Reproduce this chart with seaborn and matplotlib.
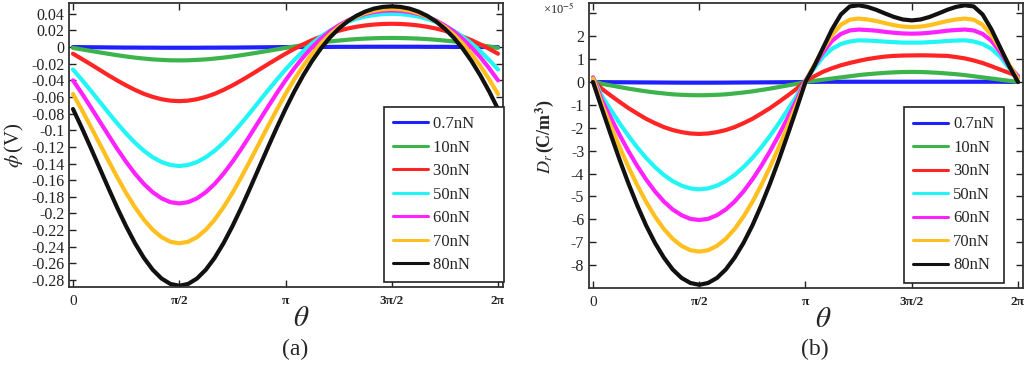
import numpy as np
import pandas as pd
import matplotlib
matplotlib.use('Agg')
import matplotlib.pyplot as plt
import seaborn as sns

# Force labels, colours and the angle grid (degrees, every 7.5 deg)
forces = ['0.7nN', '10nN', '30nN', '50nN', '60nN', '70nN', '80nN']
colors = ['#2020ff', '#3cb44b', '#ff2525', '#22f5f5', '#ff22ff', '#ffbf1f', '#111111']
theta_deg = np.linspace(0, 360, 49)

# (a) potential phi (V)
phi_07 = [0, -0.0001, -0.0002, -0.0003, -0.0004, -0.0005, -0.0006, -0.0006, -0.0007, -0.0007, -0.0008, -0.0008,
          -0.0008, -0.0008, -0.0008, -0.0007, -0.0007, -0.0006, -0.0006, -0.0005, -0.0004, -0.0003, -0.0002, -0.0001,
          0, 0.0001, 0.0001, 0.0002, 0.0002, 0.0002, 0.0003, 0.0003, 0.0003, 0.0004, 0.0004, 0.0004,
          0.0004, 0.0004, 0.0004, 0.0004, 0.0003, 0.0003, 0.0003, 0.0002, 0.0002, 0.0002, 0.0001, 0.0001, 0]
phi_10 = [-0.0010, -0.0028, -0.0046, -0.0064, -0.0081, -0.0098, -0.0113, -0.0127, -0.0138, -0.0148, -0.0154, -0.0159,
          -0.0160, -0.0159, -0.0154, -0.0148, -0.0138, -0.0127, -0.0113, -0.0098, -0.0081, -0.0064, -0.0046, -0.0028,
          -0.0010, 0.0007, 0.0024, 0.0040, 0.0054, 0.0067, 0.0078, 0.0088, 0.0096, 0.0102, 0.0106, 0.0109,
          0.0110, 0.0109, 0.0106, 0.0102, 0.0096, 0.0088, 0.0078, 0.0067, 0.0054, 0.0040, 0.0024, 0.0007, -0.0010]
phi_30 = [-0.0080, -0.0143, -0.0207, -0.0273, -0.0339, -0.0402, -0.0461, -0.0515, -0.0562, -0.0599, -0.0627, -0.0644,
          -0.0650, -0.0644, -0.0627, -0.0599, -0.0562, -0.0515, -0.0461, -0.0402, -0.0339, -0.0273, -0.0207, -0.0143,
          -0.0080, -0.0021, 0.0033, 0.0083, 0.0126, 0.0164, 0.0196, 0.0223, 0.0244, 0.0260, 0.0271, 0.0278,
          0.0280, 0.0278, 0.0271, 0.0260, 0.0244, 0.0223, 0.0196, 0.0164, 0.0126, 0.0083, 0.0033, -0.0021, -0.0080]
phi_50 = [-0.0270, -0.0394, -0.0523, -0.0656, -0.0789, -0.0918, -0.1040, -0.1150, -0.1246, -0.1325, -0.1382, -0.1418,
          -0.1430, -0.1418, -0.1382, -0.1325, -0.1246, -0.1150, -0.1040, -0.0918, -0.0789, -0.0656, -0.0523, -0.0394,
          -0.0270, -0.0155, -0.0050, 0.0044, 0.0126, 0.0196, 0.0255, 0.0302, 0.0339, 0.0366, 0.0385, 0.0396,
          0.0400, 0.0396, 0.0385, 0.0366, 0.0339, 0.0302, 0.0255, 0.0196, 0.0126, 0.0044, -0.0050, -0.0155, -0.0270]
phi_60 = [-0.0400, -0.0557, -0.0722, -0.0891, -0.1060, -0.1225, -0.1380, -0.1522, -0.1645, -0.1745, -0.1819, -0.1865,
          -0.1880, -0.1865, -0.1819, -0.1745, -0.1645, -0.1522, -0.1380, -0.1225, -0.1060, -0.0891, -0.0722, -0.0557,
          -0.0400, -0.0254, -0.0121, -0.0003, 0.0100, 0.0188, 0.0260, 0.0319, 0.0365, 0.0399, 0.0422, 0.0436,
          0.0440, 0.0436, 0.0422, 0.0399, 0.0365, 0.0319, 0.0260, 0.0188, 0.0100, -0.0003, -0.0121, -0.0254, -0.0400]
phi_70 = [-0.0565, -0.0756, -0.0956, -0.1161, -0.1366, -0.1566, -0.1755, -0.1926, -0.2075, -0.2196, -0.2286, -0.2341,
          -0.2360, -0.2341, -0.2286, -0.2196, -0.2075, -0.1926, -0.1755, -0.1566, -0.1366, -0.1161, -0.0956, -0.0756,
          -0.0565, -0.0388, -0.0226, -0.0082, 0.0044, 0.0151, 0.0240, 0.0311, 0.0367, 0.0409, 0.0438, 0.0455,
          0.0460, 0.0455, 0.0438, 0.0409, 0.0367, 0.0311, 0.0240, 0.0151, 0.0044, -0.0082, -0.0226, -0.0388, -0.0565]
phi_80 = [-0.0745, -0.0972, -0.1210, -0.1453, -0.1696, -0.1933, -0.2155, -0.2358, -0.2534, -0.2677, -0.2783, -0.2848,
          -0.2870, -0.2848, -0.2783, -0.2677, -0.2534, -0.2358, -0.2155, -0.1933, -0.1696, -0.1453, -0.1210, -0.0972,
          -0.0745, -0.0533, -0.0340, -0.0167, -0.0016, 0.0113, 0.0220, 0.0308, 0.0376, 0.0427, 0.0463, 0.0483,
          0.0490, 0.0483, 0.0463, 0.0427, 0.0376, 0.0308, 0.0220, 0.0113, -0.0016, -0.0167, -0.0340, -0.0533, -0.0745]

# (b) D_r in units of 1e-5 C/m^3
dr_07 = [0, -0.005, -0.01, -0.013, -0.015, -0.018, -0.02, -0.022, -0.025, -0.028, -0.03, -0.03,
         -0.03, -0.03, -0.03, -0.028, -0.025, -0.022, -0.02, -0.018, -0.015, -0.013, -0.01, -0.005,
         0, 0.005, 0.01, 0.01, 0.01, 0.01, 0.01, 0.01, 0.01, 0.01, 0.01, 0.01,
         0.01, 0.01, 0.01, 0.01, 0.01, 0.01, 0.01, 0.01, 0.01, 0.01, 0.01, 0.005, 0]
dr_10 = [0.05, -0.08, -0.15, -0.22, -0.29, -0.35, -0.41, -0.46, -0.50, -0.54, -0.56, -0.575,
         -0.58, -0.575, -0.56, -0.54, -0.50, -0.46, -0.41, -0.35, -0.29, -0.22, -0.15, -0.08,
         0.0, 0.05, 0.1, 0.15, 0.2, 0.25, 0.3, 0.34, 0.37, 0.4, 0.42, 0.435,
         0.44, 0.435, 0.42, 0.4, 0.37, 0.34, 0.3, 0.25, 0.2, 0.15, 0.1, 0.05, 0.0]
dr_30 = [0.1, -0.30, -0.59, -0.87, -1.14, -1.38, -1.61, -1.80, -1.97, -2.10, -2.19, -2.25,
         -2.27, -2.25, -2.19, -2.10, -1.97, -1.80, -1.61, -1.38, -1.14, -0.87, -0.59, -0.30,
         0.05, 0.25, 0.45, 0.6, 0.73, 0.83, 0.92, 1.0, 1.06, 1.11, 1.14, 1.155,
         1.16, 1.165, 1.16, 1.15, 1.14, 1.09, 1.03, 0.94, 0.83, 0.69, 0.54, 0.4, 0.25]
dr_50 = [0.2, -0.61, -1.21, -1.80, -2.35, -2.86, -3.32, -3.72, -4.06, -4.33, -4.53, -4.65,
         -4.69, -4.65, -4.53, -4.33, -4.06, -3.72, -3.32, -2.86, -2.35, -1.80, -1.21, -0.61,
         0.05, 0.6, 1.1, 1.45, 1.66, 1.77, 1.82, 1.81, 1.79, 1.76, 1.74, 1.72,
         1.72, 1.72, 1.74, 1.76, 1.79, 1.81, 1.82, 1.77, 1.66, 1.45, 1.1, 0.6, 0.25]
dr_60 = [0.2, -0.79, -1.56, -2.31, -3.02, -3.67, -4.26, -4.78, -5.22, -5.57, -5.82, -5.98,
         -6.03, -5.98, -5.82, -5.57, -5.22, -4.78, -4.26, -3.67, -3.02, -2.31, -1.56, -0.79,
         0.05, 0.7, 1.3, 1.8, 2.1, 2.25, 2.29, 2.27, 2.24, 2.19, 2.15, 2.12,
         2.11, 2.12, 2.15, 2.19, 2.24, 2.27, 2.29, 2.25, 2.1, 1.8, 1.3, 0.7, 0.25]
dr_70 = [0.15, -0.97, -1.92, -2.84, -3.71, -4.51, -5.24, -5.88, -6.42, -6.85, -7.16, -7.35,
         -7.41, -7.35, -7.16, -6.85, -6.42, -5.88, -5.24, -4.51, -3.71, -2.84, -1.92, -0.97,
         0.0, 0.75, 1.45, 2.05, 2.5, 2.72, 2.77, 2.73, 2.66, 2.57, 2.48, 2.42,
         2.40, 2.42, 2.48, 2.57, 2.66, 2.73, 2.77, 2.72, 2.5, 2.05, 1.45, 0.75, 0.15]
dr_80 = [0.0, -1.16, -2.29, -3.39, -4.43, -5.39, -6.27, -7.03, -7.67, -8.19, -8.56, -8.78,
         -8.86, -8.78, -8.56, -8.19, -7.67, -7.03, -6.27, -5.39, -4.43, -3.39, -2.29, -1.16,
         0.0, 0.7, 1.5, 2.3, 2.95, 3.3, 3.35, 3.28, 3.15, 2.99, 2.84, 2.73,
         2.69, 2.73, 2.84, 2.99, 3.15, 3.28, 3.35, 3.3, 2.95, 2.3, 1.5, 0.7, 0.0]

xtick_labels = ['0', 'π/2', 'π', '3π/2', '2π']
phi_ticks = [0.04, 0.02, 0, -0.02, -0.04, -0.06, -0.08, -0.1, -0.12, -0.14,
             -0.16, -0.18, -0.2, -0.22, -0.24, -0.26, -0.28]
dr_ticks = [-8, -7, -6, -5, -4, -3, -2, -1, 0, 1, 2, 3]

sns.set_style('ticks')
plt.rcParams['font.family'] = ['Liberation Serif', 'DejaVu Serif']
plt.rcParams['mathtext.fontset'] = 'stix'
plt.rcParams['axes.unicode_minus'] = False

theta = np.deg2rad(theta_deg)


def make_frame(series):
    return pd.DataFrame({
        'theta': np.tile(theta, len(series)),
        'value': np.concatenate(series),
        'force': np.repeat(forces, len(theta)),
    })


def style_axis(ax, labels_pad=''):
    ax.set_xlim(-0.059, 6.357)
    ax.set_xticks([0, np.pi / 2, np.pi, 3 * np.pi / 2, 2 * np.pi])
    ax.set_xticklabels(xtick_labels)
    ax.tick_params(direction='in', length=5, width=1, top=True, right=True,
                   labelsize=11.5, colors='#222222')
    ax.tick_params(axis='x', pad=6, labelsize=9.5)
    for i, lab in enumerate(ax.get_xticklabels()):
        if i == 0:
            lab.set_fontsize(11)
        else:
            lab.set_fontweight('bold')
    for s in ax.spines.values():
        s.set_linewidth(1.3)
        s.set_color('#333333')
    ax.set_xlabel('')
    handles, labels = ax.get_legend_handles_labels()
    labels = [lab + labels_pad for lab in labels]
    leg = ax.legend(handles, labels, loc='upper left', bbox_to_anchor=(0.726, 0.634),
                    frameon=True, fancybox=False, edgecolor='#222222', framealpha=1,
                    fontsize=12, handlelength=2.1, handletextpad=0.3,
                    labelspacing=0.45, borderpad=0.55, borderaxespad=0)
    leg.get_frame().set_linewidth(1.2)
    for line in leg.get_lines():
        line.set_linewidth(2.2)


fig = plt.figure(figsize=(10.24, 3.66), dpi=100)
ax_a = fig.add_axes([0.0674, 0.2158, 0.4238, 0.776])
ax_b = fig.add_axes([0.5752, 0.2131, 0.4238, 0.7787])

# Panel (a)
df_a = make_frame([phi_07, phi_10, phi_30, phi_50, phi_60, phi_70, phi_80])
sns.lineplot(data=df_a, x='theta', y='value', hue='force', hue_order=forces,
             palette=colors, linewidth=3, estimator=None, sort=False, ax=ax_a)
ax_a.set_ylim(-0.2885, 0.053)
ax_a.set_yticks(phi_ticks)
ax_a.set_yticklabels([f'{v:g}' for v in phi_ticks])
style_axis(ax_a, labels_pad='     ')
ax_a.set_ylabel(r'$\phi\,$(V)', fontsize=15)
ax_a.yaxis.set_label_coords(-0.1, 0.5)

# Panel (b)
df_b = make_frame([dr_07, dr_10, dr_30, dr_50, dr_60, dr_70, dr_80])
sns.lineplot(data=df_b, x='theta', y='value', hue='force', hue_order=forces,
             palette=colors, linewidth=3, estimator=None, sort=False, ax=ax_b)
ax_b.set_ylim(-9.0, 3.45)
ax_b.set_yticks(dr_ticks)
ax_b.set_yticklabels([str(v) if v < 3 else '' for v in dr_ticks])
style_axis(ax_b)
ax_b.set_ylabel(r'$\boldsymbol{D_r}\,$(C/m$^{\mathbf{3}}$)', fontsize=13, fontweight='bold')
ax_b.yaxis.set_label_coords(-0.076, 0.53)

fig.text(543 / 1024, 1 - 9 / 366, '×10$^{-5}$', fontsize=9, ha='left', va='center')

# Axis titles under each panel
fig.text(301 / 1024, 1 - 319 / 366, r'$\theta$', fontsize=21, ha='center', va='center')
fig.text(823 / 1024, 1 - 320 / 366, r'$\theta$', fontsize=21, ha='center', va='center')
fig.text(295 / 1024, 1 - 349 / 366, '(a)', fontsize=17, ha='center', va='center')
fig.text(815 / 1024, 1 - 349 / 366, '(b)', fontsize=17, ha='center', va='center')

fig.savefig('out.png', dpi=100)
